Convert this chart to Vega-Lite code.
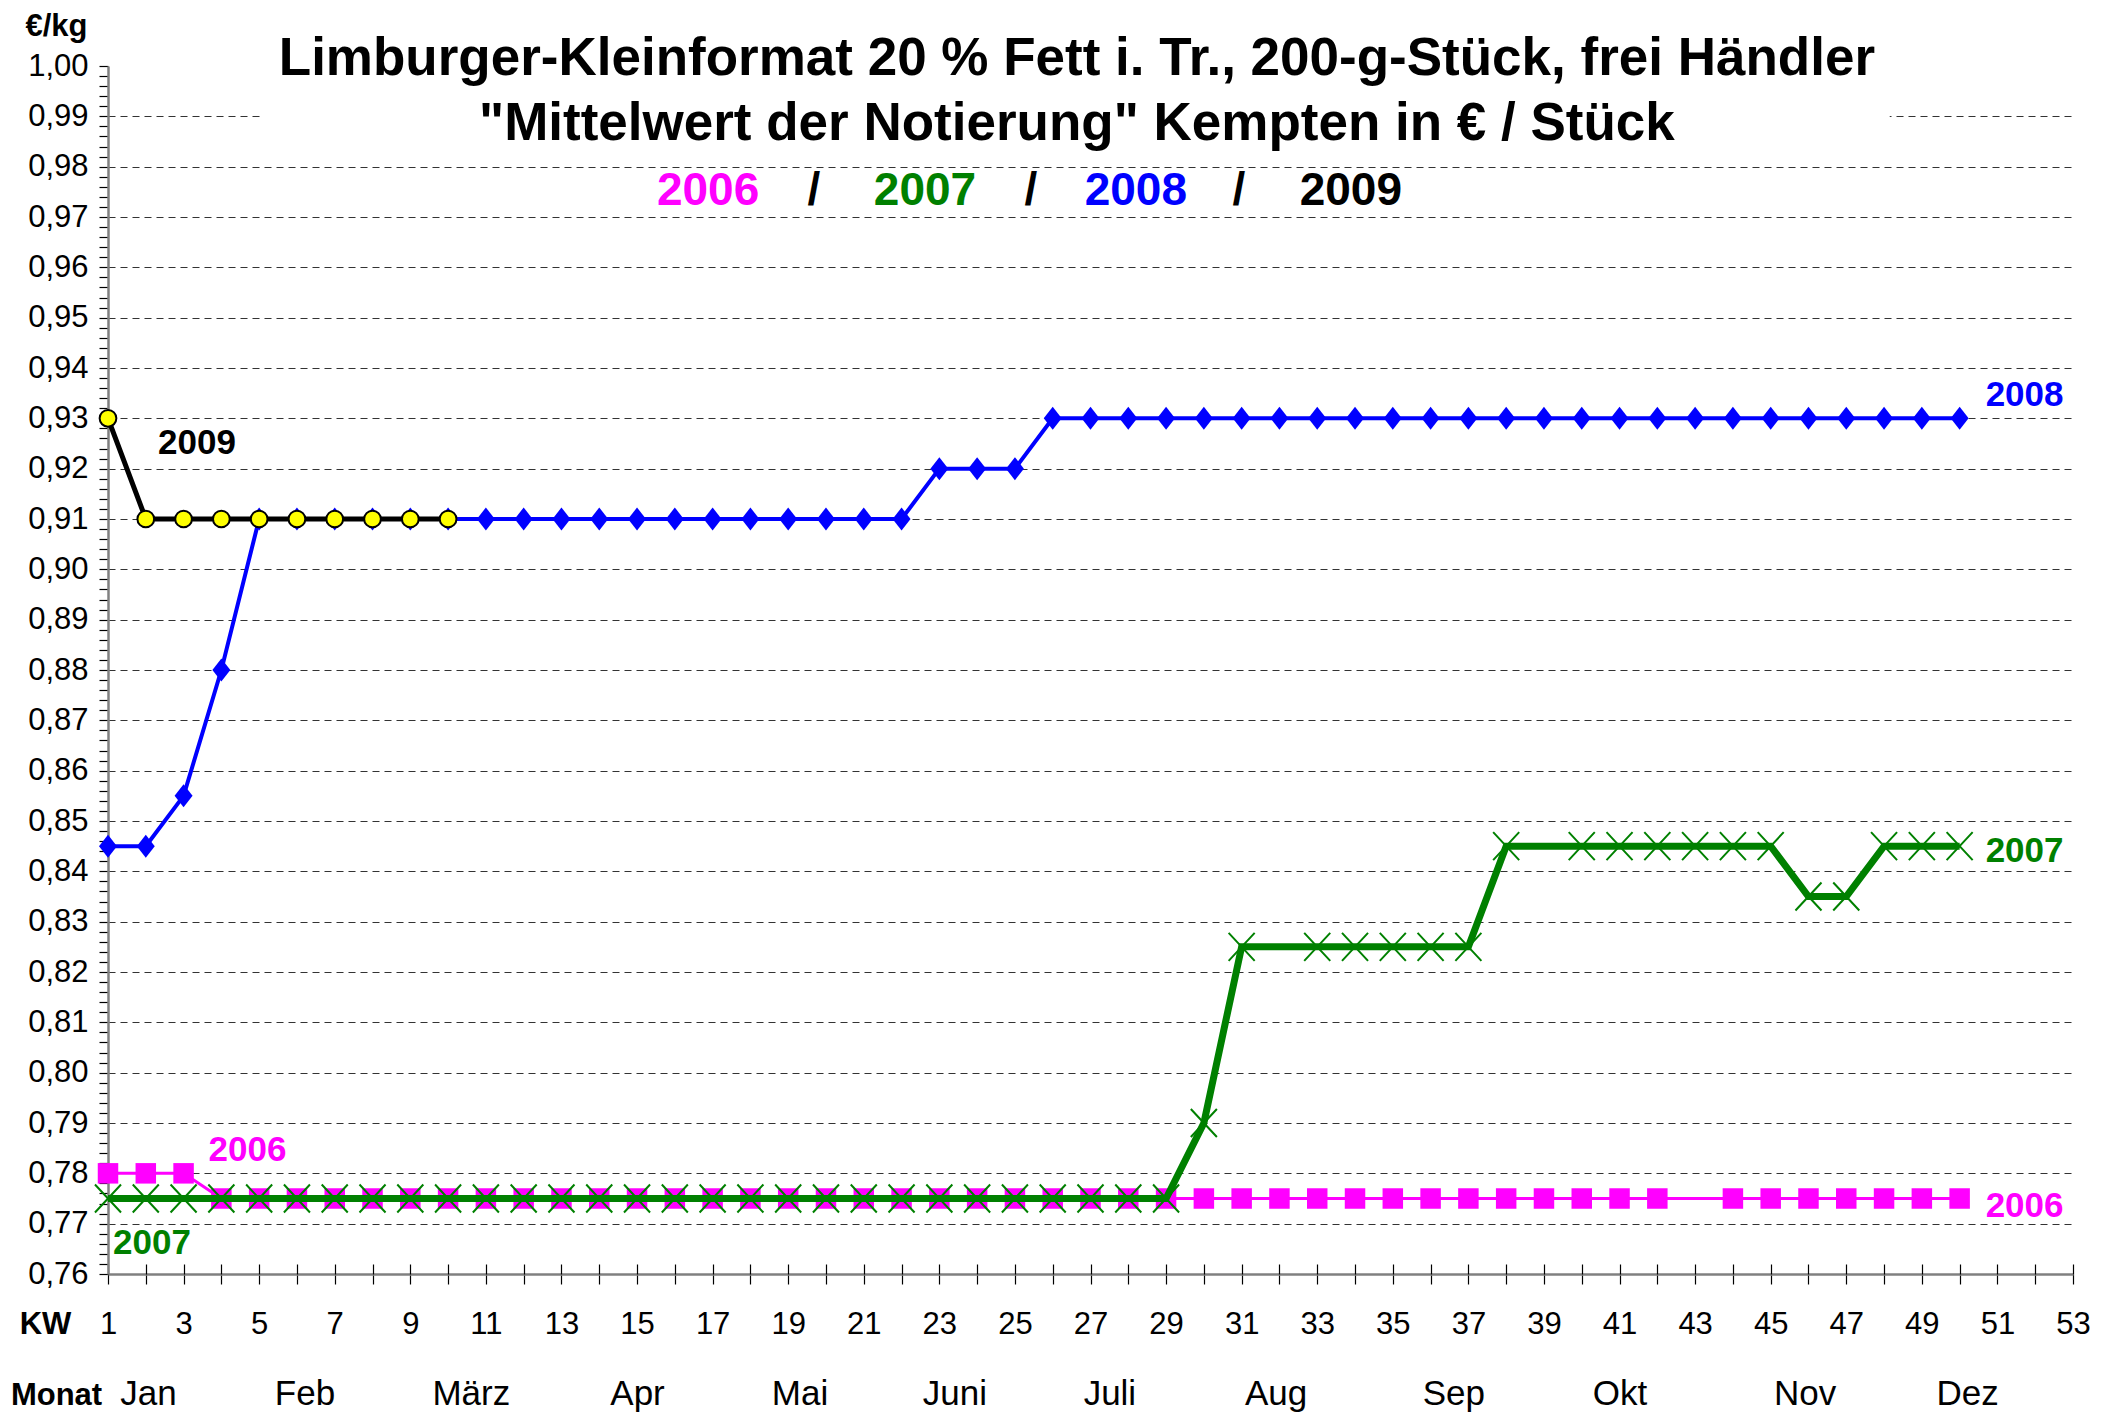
{
  "$schema": "https://vega.github.io/schema/vega-lite/v6.json",
  "width": 1965,
  "height": 1208,
  "autosize": {"type": "none"},
  "padding": {"left": 108, "top": 66, "right": 43, "bottom": 140},
  "background": "white",
  "config": {
    "view": {"stroke": null},
    "font": "Liberation Sans",
    "axis": {"labelFont": "Liberation Sans", "titleFont": "Liberation Sans", "labelColor": "black", "titleColor": "black"}
  },
  "data": {"values": [
    {"year":"2006","week":1,"price":0.78},{"year":"2006","week":2,"price":0.78},{"year":"2006","week":3,"price":0.78},
    {"year":"2006","week":4,"price":0.775},{"year":"2006","week":5,"price":0.775},{"year":"2006","week":6,"price":0.775},{"year":"2006","week":7,"price":0.775},{"year":"2006","week":8,"price":0.775},{"year":"2006","week":9,"price":0.775},{"year":"2006","week":10,"price":0.775},
    {"year":"2006","week":11,"price":0.775},{"year":"2006","week":12,"price":0.775},{"year":"2006","week":13,"price":0.775},{"year":"2006","week":14,"price":0.775},{"year":"2006","week":15,"price":0.775},{"year":"2006","week":16,"price":0.775},{"year":"2006","week":17,"price":0.775},{"year":"2006","week":18,"price":0.775},{"year":"2006","week":19,"price":0.775},{"year":"2006","week":20,"price":0.775},
    {"year":"2006","week":21,"price":0.775},{"year":"2006","week":22,"price":0.775},{"year":"2006","week":23,"price":0.775},{"year":"2006","week":24,"price":0.775},{"year":"2006","week":25,"price":0.775},{"year":"2006","week":26,"price":0.775},{"year":"2006","week":27,"price":0.775},{"year":"2006","week":28,"price":0.775},{"year":"2006","week":29,"price":0.775},{"year":"2006","week":30,"price":0.775},
    {"year":"2006","week":31,"price":0.775},{"year":"2006","week":32,"price":0.775},{"year":"2006","week":33,"price":0.775},{"year":"2006","week":34,"price":0.775},{"year":"2006","week":35,"price":0.775},{"year":"2006","week":36,"price":0.775},{"year":"2006","week":37,"price":0.775},{"year":"2006","week":38,"price":0.775},{"year":"2006","week":39,"price":0.775},{"year":"2006","week":40,"price":0.775},
    {"year":"2006","week":41,"price":0.775},{"year":"2006","week":42,"price":0.775},{"year":"2006","week":44,"price":0.775},{"year":"2006","week":45,"price":0.775},{"year":"2006","week":46,"price":0.775},{"year":"2006","week":47,"price":0.775},{"year":"2006","week":48,"price":0.775},{"year":"2006","week":49,"price":0.775},{"year":"2006","week":50,"price":0.775},
    {"year":"2007","week":1,"price":0.775},{"year":"2007","week":2,"price":0.775},{"year":"2007","week":3,"price":0.775},{"year":"2007","week":4,"price":0.775},{"year":"2007","week":5,"price":0.775},{"year":"2007","week":6,"price":0.775},{"year":"2007","week":7,"price":0.775},{"year":"2007","week":8,"price":0.775},{"year":"2007","week":9,"price":0.775},{"year":"2007","week":10,"price":0.775},
    {"year":"2007","week":11,"price":0.775},{"year":"2007","week":12,"price":0.775},{"year":"2007","week":13,"price":0.775},{"year":"2007","week":14,"price":0.775},{"year":"2007","week":15,"price":0.775},{"year":"2007","week":16,"price":0.775},{"year":"2007","week":17,"price":0.775},{"year":"2007","week":18,"price":0.775},{"year":"2007","week":19,"price":0.775},{"year":"2007","week":20,"price":0.775},
    {"year":"2007","week":21,"price":0.775},{"year":"2007","week":22,"price":0.775},{"year":"2007","week":23,"price":0.775},{"year":"2007","week":24,"price":0.775},{"year":"2007","week":25,"price":0.775},{"year":"2007","week":26,"price":0.775},{"year":"2007","week":27,"price":0.775},{"year":"2007","week":28,"price":0.775},{"year":"2007","week":29,"price":0.775},{"year":"2007","week":30,"price":0.79},
    {"year":"2007","week":31,"price":0.825},{"year":"2007","week":33,"price":0.825},{"year":"2007","week":34,"price":0.825},{"year":"2007","week":35,"price":0.825},{"year":"2007","week":36,"price":0.825},{"year":"2007","week":37,"price":0.825},{"year":"2007","week":38,"price":0.845},{"year":"2007","week":40,"price":0.845},
    {"year":"2007","week":41,"price":0.845},{"year":"2007","week":42,"price":0.845},{"year":"2007","week":43,"price":0.845},{"year":"2007","week":44,"price":0.845},{"year":"2007","week":45,"price":0.845},{"year":"2007","week":46,"price":0.835},{"year":"2007","week":47,"price":0.835},{"year":"2007","week":48,"price":0.845},{"year":"2007","week":49,"price":0.845},{"year":"2007","week":50,"price":0.845},
    {"year":"2008","week":1,"price":0.845},{"year":"2008","week":2,"price":0.845},{"year":"2008","week":3,"price":0.855},{"year":"2008","week":4,"price":0.88},{"year":"2008","week":5,"price":0.91},{"year":"2008","week":6,"price":0.91},{"year":"2008","week":7,"price":0.91},{"year":"2008","week":8,"price":0.91},{"year":"2008","week":9,"price":0.91},{"year":"2008","week":10,"price":0.91},
    {"year":"2008","week":11,"price":0.91},{"year":"2008","week":12,"price":0.91},{"year":"2008","week":13,"price":0.91},{"year":"2008","week":14,"price":0.91},{"year":"2008","week":15,"price":0.91},{"year":"2008","week":16,"price":0.91},{"year":"2008","week":17,"price":0.91},{"year":"2008","week":18,"price":0.91},{"year":"2008","week":19,"price":0.91},{"year":"2008","week":20,"price":0.91},
    {"year":"2008","week":21,"price":0.91},{"year":"2008","week":22,"price":0.91},{"year":"2008","week":23,"price":0.92},{"year":"2008","week":24,"price":0.92},{"year":"2008","week":25,"price":0.92},{"year":"2008","week":26,"price":0.93},{"year":"2008","week":27,"price":0.93},{"year":"2008","week":28,"price":0.93},{"year":"2008","week":29,"price":0.93},{"year":"2008","week":30,"price":0.93},
    {"year":"2008","week":31,"price":0.93},{"year":"2008","week":32,"price":0.93},{"year":"2008","week":33,"price":0.93},{"year":"2008","week":34,"price":0.93},{"year":"2008","week":35,"price":0.93},{"year":"2008","week":36,"price":0.93},{"year":"2008","week":37,"price":0.93},{"year":"2008","week":38,"price":0.93},{"year":"2008","week":39,"price":0.93},{"year":"2008","week":40,"price":0.93},
    {"year":"2008","week":41,"price":0.93},{"year":"2008","week":42,"price":0.93},{"year":"2008","week":43,"price":0.93},{"year":"2008","week":44,"price":0.93},{"year":"2008","week":45,"price":0.93},{"year":"2008","week":46,"price":0.93},{"year":"2008","week":47,"price":0.93},{"year":"2008","week":48,"price":0.93},{"year":"2008","week":49,"price":0.93},{"year":"2008","week":50,"price":0.93},
    {"year":"2009","week":1,"price":0.93},{"year":"2009","week":2,"price":0.91},{"year":"2009","week":3,"price":0.91},{"year":"2009","week":4,"price":0.91},{"year":"2009","week":5,"price":0.91},{"year":"2009","week":6,"price":0.91},{"year":"2009","week":7,"price":0.91},{"year":"2009","week":8,"price":0.91},{"year":"2009","week":9,"price":0.91},{"year":"2009","week":10,"price":0.91}
  ]},
  "resolve": {"axis": {"x": "independent", "y": "independent"}},
  "layer": [
    {
      "data": {"values": [{}]},
      "mark": {"type": "rect", "color": "white"},
      "encoding": {
        "x": {"datum": 5.1, "type": "quantitative", "scale": {"domain": [1, 53], "nice": false, "zero": false},
          "axis": {"orient": "bottom", "title": "Monat", "titleX": -52, "titleY": 130, "titleAlign": "center", "titleBaseline": "alphabetic", "titleFontSize": 31, "titleFontWeight": "bold",
            "values": [2.06, 6.2, 10.6, 15.0, 19.3, 23.4, 27.5, 31.9, 36.6, 41.0, 45.9, 50.2],
            "labelExpr": "datum.value < 4 ? 'Jan' : datum.value < 8 ? 'Feb' : datum.value < 13 ? 'März' : datum.value < 17 ? 'Apr' : datum.value < 21 ? 'Mai' : datum.value < 25 ? 'Juni' : datum.value < 30 ? 'Juli' : datum.value < 34 ? 'Aug' : datum.value < 39 ? 'Sep' : datum.value < 43 ? 'Okt' : datum.value < 48 ? 'Nov' : 'Dez'",
            "labelFontSize": 35, "labelPadding": 130, "labelBaseline": "alphabetic", "ticks": false, "tickSize": 0, "domain": false, "grid": false, "labelOverlap": false, "labelFlush": false}},
        "x2": {"datum": 48.15},
        "y": {"datum": 0.9867, "type": "quantitative", "scale": {"domain": [0.76, 1.0], "nice": false, "zero": false}, "axis": null},
        "y2": {"datum": 0.9933}
      }
    },
    {
      "transform": [{"filter": "datum.year == '2006'"}],
      "mark": {"type": "line", "color": "#FF00FF", "strokeWidth": 3},
      "encoding": {
        "x": {"field": "week", "type": "quantitative", "scale": {"domain": [1, 53], "nice": false, "zero": false},
          "axis": {"orient": "bottom", "title": "KW", "titleX": -63, "titleY": 59, "titleAlign": "center", "titleBaseline": "alphabetic", "titleFontSize": 31, "titleFontWeight": "bold",
            "tickCount": 52, "labelExpr": "datum.value % 2 == 1 ? datum.label : ''", "labelFontSize": 31, "labelBaseline": "alphabetic", "labelPadding": 49,
            "labelOverlap": false, "labelFlush": false, "tickSize": 10, "tickColor": "black", "tickWidth": 1.2, "domainColor": "#808080", "domainWidth": 2.5, "grid": false}},
        "y": {"field": "price", "type": "quantitative", "scale": {"domain": [0.76, 1.0], "nice": false, "zero": false},
          "axis": {"orient": "left", "title": "€/kg", "titleAngle": 0, "titleX": -52, "titleY": -31, "titleAlign": "center", "titleBaseline": "alphabetic", "titleFontSize": 31, "titleFontWeight": "bold",
            "tickCount": 120, "labelExpr": "round(datum.value*500) % 5 == 0 ? replace(format(datum.value, '.2f'), '.', ',') : ''",
            "labelFontSize": 31, "labelPadding": 11, "tickSize": 9, "tickColor": "black", "tickWidth": 1.2, "labelOverlap": false, "labelFlush": false,
            "grid": true, "gridColor": "#333333", "gridDash": [7, 5], "gridWidth": 1.2,
            "gridOpacity": {"condition": {"test": "round(datum.value*500) % 5 == 0 && datum.value > 0.765 && datum.value < 0.995", "value": 1}, "value": 0},
            "domainColor": "#808080", "domainWidth": 2.5}}
      }
    },
    {
      "transform": [{"filter": "datum.year == '2006'"}],
      "mark": {"type": "point", "shape": "square", "filled": true, "color": "#FF00FF", "size": 420, "opacity": 1},
      "encoding": {
        "x": {"field": "week", "type": "quantitative", "scale": {"domain": [1, 53], "nice": false, "zero": false}, "axis": null},
        "y": {"field": "price", "type": "quantitative", "scale": {"domain": [0.76, 1.0], "nice": false, "zero": false}, "axis": null}
      }
    },
    {
      "transform": [{"filter": "datum.year == '2007'"}],
      "mark": {"type": "line", "color": "#008000", "strokeWidth": 7},
      "encoding": {
        "x": {"field": "week", "type": "quantitative", "scale": {"domain": [1, 53], "nice": false, "zero": false}, "axis": null},
        "y": {"field": "price", "type": "quantitative", "scale": {"domain": [0.76, 1.0], "nice": false, "zero": false}, "axis": null}
      }
    },
    {
      "transform": [{"filter": "datum.year == '2007'"}],
      "mark": {"type": "point", "shape": "M-0.93,-1L0.93,1M-0.93,1L0.93,-1", "filled": false, "color": "#008000", "strokeWidth": 2, "size": 784, "opacity": 1},
      "encoding": {
        "x": {"field": "week", "type": "quantitative", "scale": {"domain": [1, 53], "nice": false, "zero": false}, "axis": null},
        "y": {"field": "price", "type": "quantitative", "scale": {"domain": [0.76, 1.0], "nice": false, "zero": false}, "axis": null}
      }
    },
    {
      "transform": [{"filter": "datum.year == '2008'"}],
      "mark": {"type": "line", "color": "#0000FF", "strokeWidth": 4},
      "encoding": {
        "x": {"field": "week", "type": "quantitative", "scale": {"domain": [1, 53], "nice": false, "zero": false}, "axis": null},
        "y": {"field": "price", "type": "quantitative", "scale": {"domain": [0.76, 1.0], "nice": false, "zero": false}, "axis": null}
      }
    },
    {
      "transform": [{"filter": "datum.year == '2008'"}],
      "mark": {"type": "point", "shape": "M0,-1L0.78,0L0,1L-0.78,0Z", "filled": true, "color": "#0000FF", "size": 530, "opacity": 1},
      "encoding": {
        "x": {"field": "week", "type": "quantitative", "scale": {"domain": [1, 53], "nice": false, "zero": false}, "axis": null},
        "y": {"field": "price", "type": "quantitative", "scale": {"domain": [0.76, 1.0], "nice": false, "zero": false}, "axis": null}
      }
    },
    {
      "transform": [{"filter": "datum.year == '2009'"}],
      "mark": {"type": "line", "color": "black", "strokeWidth": 5},
      "encoding": {
        "x": {"field": "week", "type": "quantitative", "scale": {"domain": [1, 53], "nice": false, "zero": false}, "axis": null},
        "y": {"field": "price", "type": "quantitative", "scale": {"domain": [0.76, 1.0], "nice": false, "zero": false}, "axis": null}
      }
    },
    {
      "transform": [{"filter": "datum.year == '2009'"}],
      "mark": {"type": "point", "shape": "circle", "filled": true, "fill": "#FFFF00", "stroke": "black", "strokeWidth": 2, "size": 280, "opacity": 1},
      "encoding": {
        "x": {"field": "week", "type": "quantitative", "scale": {"domain": [1, 53], "nice": false, "zero": false}, "axis": null},
        "y": {"field": "price", "type": "quantitative", "scale": {"domain": [0.76, 1.0], "nice": false, "zero": false}, "axis": null}
      }
    },
    {
      "transform": [{"filter": "datum.year == '2009' && datum.week == 1"}],
      "mark": {"type": "text", "align": "left", "baseline": "middle", "dx": 50, "dy": 25, "fontSize": 35, "fontWeight": "bold", "color": "black"},
      "encoding": {
        "x": {"field": "week", "type": "quantitative", "scale": {"domain": [1, 53], "nice": false, "zero": false}, "axis": null},
        "y": {"field": "price", "type": "quantitative", "scale": {"domain": [0.76, 1.0], "nice": false, "zero": false}, "axis": null},
        "text": {"field": "year"}
      }
    },
    {
      "transform": [{"filter": "datum.year == '2006' && datum.week == 3"}],
      "mark": {"type": "text", "align": "left", "baseline": "middle", "dx": 25, "dy": -23, "fontSize": 35, "fontWeight": "bold", "color": "#FF00FF"},
      "encoding": {
        "x": {"field": "week", "type": "quantitative", "scale": {"domain": [1, 53], "nice": false, "zero": false}, "axis": null},
        "y": {"field": "price", "type": "quantitative", "scale": {"domain": [0.76, 1.0], "nice": false, "zero": false}, "axis": null},
        "text": {"field": "year"}
      }
    },
    {
      "transform": [{"filter": "datum.year == '2007' && datum.week == 1"}],
      "mark": {"type": "text", "align": "left", "baseline": "middle", "dx": 5, "dy": 44, "fontSize": 35, "fontWeight": "bold", "color": "#008000"},
      "encoding": {
        "x": {"field": "week", "type": "quantitative", "scale": {"domain": [1, 53], "nice": false, "zero": false}, "axis": null},
        "y": {"field": "price", "type": "quantitative", "scale": {"domain": [0.76, 1.0], "nice": false, "zero": false}, "axis": null},
        "text": {"field": "year"}
      }
    },
    {
      "transform": [{"filter": "datum.year == '2008' && datum.week == 50"}],
      "mark": {"type": "text", "align": "left", "baseline": "middle", "dx": 26, "dy": -23, "fontSize": 35, "fontWeight": "bold", "color": "#0000FF"},
      "encoding": {
        "x": {"field": "week", "type": "quantitative", "scale": {"domain": [1, 53], "nice": false, "zero": false}, "axis": null},
        "y": {"field": "price", "type": "quantitative", "scale": {"domain": [0.76, 1.0], "nice": false, "zero": false}, "axis": null},
        "text": {"field": "year"}
      }
    },
    {
      "transform": [{"filter": "datum.year == '2007' && datum.week == 50"}],
      "mark": {"type": "text", "align": "left", "baseline": "middle", "dx": 26, "dy": 5, "fontSize": 35, "fontWeight": "bold", "color": "#008000"},
      "encoding": {
        "x": {"field": "week", "type": "quantitative", "scale": {"domain": [1, 53], "nice": false, "zero": false}, "axis": null},
        "y": {"field": "price", "type": "quantitative", "scale": {"domain": [0.76, 1.0], "nice": false, "zero": false}, "axis": null},
        "text": {"field": "year"}
      }
    },
    {
      "transform": [{"filter": "datum.year == '2006' && datum.week == 50"}],
      "mark": {"type": "text", "align": "left", "baseline": "middle", "dx": 26, "dy": 7, "fontSize": 35, "fontWeight": "bold", "color": "#FF00FF"},
      "encoding": {
        "x": {"field": "week", "type": "quantitative", "scale": {"domain": [1, 53], "nice": false, "zero": false}, "axis": null},
        "y": {"field": "price", "type": "quantitative", "scale": {"domain": [0.76, 1.0], "nice": false, "zero": false}, "axis": null},
        "text": {"field": "year"}
      }
    },
    {
      "data": {"values": [{}]},
      "mark": {"type": "text", "text": "Limburger-Kleinformat 20 % Fett i. Tr., 200-g-Stück, frei Händler", "align": "center", "baseline": "alphabetic", "fontSize": 53, "fontWeight": "bold", "color": "black"},
      "encoding": {
        "x": {"datum": 26.64, "type": "quantitative", "scale": {"domain": [1, 53], "nice": false, "zero": false},
          "axis": {"orient": "bottom", "tickCount": 52, "tickSize": -10, "tickColor": "black", "tickWidth": 1.2, "labels": false, "domain": false, "grid": false, "title": null}},
        "y": {"datum": 0.99821, "type": "quantitative", "scale": {"domain": [0.76, 1.0], "nice": false, "zero": false}, "axis": null}
      }
    },
    {
      "data": {"values": [{}]},
      "mark": {"type": "text", "text": "\"Mittelwert der Notierung\" Kempten in € / Stück", "align": "center", "baseline": "alphabetic", "fontSize": 53, "fontWeight": "bold", "color": "black"},
      "encoding": {
        "x": {"datum": 26.64, "type": "quantitative", "scale": {"domain": [1, 53], "nice": false, "zero": false}, "axis": null},
        "y": {"datum": 0.9853, "type": "quantitative", "scale": {"domain": [0.76, 1.0], "nice": false, "zero": false}, "axis": null}
      }
    },
    {
      "data": {"values": [{}]},
      "mark": {"type": "text", "text": "2006", "align": "center", "baseline": "alphabetic", "fontSize": 46, "fontWeight": "bold", "color": "#FF00FF"},
      "encoding": {
        "x": {"datum": 16.88, "type": "quantitative", "scale": {"domain": [1, 53], "nice": false, "zero": false}, "axis": null},
        "y": {"datum": 0.97238, "type": "quantitative", "scale": {"domain": [0.76, 1.0], "nice": false, "zero": false}, "axis": null}
      }
    },
    {
      "data": {"values": [{}]},
      "mark": {"type": "text", "text": "/", "align": "center", "baseline": "alphabetic", "fontSize": 46, "fontWeight": "bold", "color": "black"},
      "encoding": {
        "x": {"datum": 19.68, "type": "quantitative", "scale": {"domain": [1, 53], "nice": false, "zero": false}, "axis": null},
        "y": {"datum": 0.97238, "type": "quantitative", "scale": {"domain": [0.76, 1.0], "nice": false, "zero": false}, "axis": null}
      }
    },
    {
      "data": {"values": [{}]},
      "mark": {"type": "text", "text": "2007", "align": "center", "baseline": "alphabetic", "fontSize": 46, "fontWeight": "bold", "color": "#008000"},
      "encoding": {
        "x": {"datum": 22.62, "type": "quantitative", "scale": {"domain": [1, 53], "nice": false, "zero": false}, "axis": null},
        "y": {"datum": 0.97238, "type": "quantitative", "scale": {"domain": [0.76, 1.0], "nice": false, "zero": false}, "axis": null}
      }
    },
    {
      "data": {"values": [{}]},
      "mark": {"type": "text", "text": "/", "align": "center", "baseline": "alphabetic", "fontSize": 46, "fontWeight": "bold", "color": "black"},
      "encoding": {
        "x": {"datum": 25.42, "type": "quantitative", "scale": {"domain": [1, 53], "nice": false, "zero": false}, "axis": null},
        "y": {"datum": 0.97238, "type": "quantitative", "scale": {"domain": [0.76, 1.0], "nice": false, "zero": false}, "axis": null}
      }
    },
    {
      "data": {"values": [{}]},
      "mark": {"type": "text", "text": "2008", "align": "center", "baseline": "alphabetic", "fontSize": 46, "fontWeight": "bold", "color": "#0000FF"},
      "encoding": {
        "x": {"datum": 28.2, "type": "quantitative", "scale": {"domain": [1, 53], "nice": false, "zero": false}, "axis": null},
        "y": {"datum": 0.97238, "type": "quantitative", "scale": {"domain": [0.76, 1.0], "nice": false, "zero": false}, "axis": null}
      }
    },
    {
      "data": {"values": [{}]},
      "mark": {"type": "text", "text": "/", "align": "center", "baseline": "alphabetic", "fontSize": 46, "fontWeight": "bold", "color": "black"},
      "encoding": {
        "x": {"datum": 30.93, "type": "quantitative", "scale": {"domain": [1, 53], "nice": false, "zero": false}, "axis": null},
        "y": {"datum": 0.97238, "type": "quantitative", "scale": {"domain": [0.76, 1.0], "nice": false, "zero": false}, "axis": null}
      }
    },
    {
      "data": {"values": [{}]},
      "mark": {"type": "text", "text": "2009", "align": "center", "baseline": "alphabetic", "fontSize": 46, "fontWeight": "bold", "color": "black"},
      "encoding": {
        "x": {"datum": 33.89, "type": "quantitative", "scale": {"domain": [1, 53], "nice": false, "zero": false}, "axis": null},
        "y": {"datum": 0.97238, "type": "quantitative", "scale": {"domain": [0.76, 1.0], "nice": false, "zero": false}, "axis": null}
      }
    }
  ]
}
